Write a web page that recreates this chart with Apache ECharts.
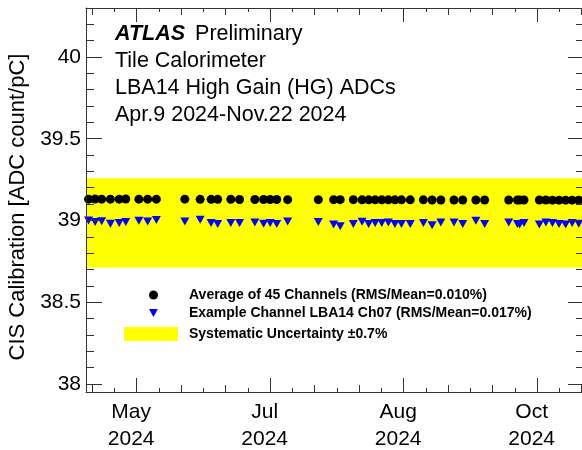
<!DOCTYPE html>
<html><head><meta charset="utf-8">
<script src="https://cdn.jsdelivr.net/npm/echarts@6/dist/echarts.min.js"></script>
<style>html,body{margin:0;padding:0;background:#fff}#c{width:582px;height:450px}</style>
</head><body><div id="c"></div>
<script>
// ---- data ----
const runDates = ['2024-04-09','2024-04-12','2024-04-15','2024-04-19','2024-04-23','2024-04-26',
  '2024-05-02','2024-05-06','2024-05-10','2024-05-23','2024-05-30','2024-06-04','2024-06-07',
  '2024-06-13','2024-06-17','2024-06-24','2024-06-28','2024-07-01','2024-07-04','2024-07-09',
  '2024-07-23','2024-07-30','2024-08-02','2024-08-08','2024-08-12','2024-08-15','2024-08-18',
  '2024-08-21','2024-08-24','2024-08-27','2024-08-30','2024-09-03','2024-09-09','2024-09-13',
  '2024-09-17','2024-09-23','2024-09-27','2024-10-03','2024-10-07','2024-10-18','2024-10-22',
  '2024-10-23','2024-10-25','2024-11-01','2024-11-04','2024-11-07','2024-11-10','2024-11-13',
  '2024-11-16','2024-11-19'];
const avgValues = [39.130,39.131,39.130,39.130,39.130,39.131,39.130,39.130,39.130,39.130,
  39.129,39.129,39.129,39.129,39.128,39.128,39.128,39.128,39.128,39.127,
  39.127,39.127,39.127,39.127,39.126,39.126,39.126,39.126,39.126,39.126,
  39.126,39.126,39.126,39.125,39.125,39.125,39.125,39.125,39.125,39.125,
  39.125,39.125,39.125,39.125,39.125,39.124,39.124,39.124,39.124,39.124];
const chValues = [39.000,38.990,38.995,38.980,38.985,38.990,38.998,38.994,39.002,38.994,
  39.004,38.985,38.978,38.985,38.985,38.988,38.980,38.985,38.978,38.994,
  38.990,38.975,38.965,38.978,38.992,38.978,38.985,38.985,38.988,38.978,
  38.978,38.978,38.984,38.970,38.988,38.988,38.978,38.998,38.978,38.988,
  38.978,38.975,38.984,38.975,38.988,38.984,38.978,38.975,38.984,38.980];
const sysUncertainty = 0.007;
const xTickDates = ['2024-05-01','2024-07-01','2024-08-31','2024-10-31'];
const xTickLabels = ['May\n2024','Jul\n2024','Aug\n2024','Oct\n2024'];
const yTickValues = [38, 38.5, 39, 39.5, 40];
const yTickLabels = ['38','38.5','39','39.5','40'];
const nameAvg = 'Average of 45 Channels (RMS/Mean=0.010%)';
const nameCh = 'Example Channel LBA14 Ch07 (RMS/Mean=0.017%)';
const nameSys = 'Systematic Uncertainty \u00B10.7%';

// ---- build ----
const FONT = '"Liberation Sans", Arial, Helvetica, sans-serif';
const T = s => Date.parse(s + 'T00:00:00Z');
const xMin = Date.parse('2024-04-07T20:00:00Z');
const xMax = Date.parse('2024-11-21T10:00:00Z');
const yMin = 37.95, yMax = 40.30;
const majorX = xTickDates.map(T);
const stepX = majorX[1] - majorX[0];
const secX = [], terX = [];
for (let k = -12; k <= 40; k++) {
  const v = majorX[0] + k * stepX / 6;
  if (v < xMin || v > xMax || k % 6 === 0) continue;
  if (k % 2 === 0) secX.push(v); else terX.push(v);
}
const minorY = [];
for (let k = 380; k <= 403; k++) { if (k % 5 !== 0) minorY.push(k / 10); }

// systematic band: mean of the example channel +-0.7%
const chMean = chValues.reduce((a, b) => a + b, 0) / chValues.length;
const bandLo = chMean * (1 - sysUncertainty), bandHi = chMean * (1 + sysUncertainty);

const LC = '#333';
function xAx(pos, ticks, len, showLine, labels) {
  return {
    type: 'value', position: pos, min: xMin, max: xMax, z: 10,
    axisLine: { show: showLine, onZero: false, lineStyle: { color: LC, width: 1 } },
    axisTick: { show: true, inside: true, length: len, customValues: ticks, lineStyle: { color: LC, width: 1 } },
    axisLabel: labels ? {
      show: true, customValues: majorX, margin: 7, fontSize: 21, lineHeight: 27,
      fontFamily: FONT, color: '#000', padding: [0, 11, 0, 0],
      formatter: v => { const i = majorX.indexOf(v); return i >= 0 ? xTickLabels[i] : ''; }
    } : { show: false },
    splitLine: { show: false }
  };
}
function yAx(pos, ticks, len, showLine, labels, extra) {
  return Object.assign({
    type: 'value', position: pos, min: yMin, max: yMax, z: 10,
    axisLine: { show: showLine, onZero: false, lineStyle: { color: LC, width: 1 } },
    axisTick: { show: true, inside: true, length: len, customValues: ticks, lineStyle: { color: LC, width: 1 } },
    axisLabel: labels ? {
      show: true, customValues: yTickValues, margin: 5, fontSize: 21,
      fontFamily: FONT, color: '#000',
      formatter: v => { const i = yTickValues.indexOf(v); return i >= 0 ? yTickLabels[i] : ''; }
    } : { show: false },
    splitLine: { show: false }
  }, extra || {});
}

const xs = runDates.map(T);
const legendText = { fontFamily: FONT, fontSize: 14, fontWeight: 'bold', color: '#000' };
const chart = echarts.init(document.getElementById('c'), null, { renderer: 'canvas' });
chart.setOption({
  animation: false,
  backgroundColor: '#fff',
  grid: { left: 86, top: 8, width: 498, bottom: 58, containLabel: false, outerBoundsMode: 'none' },
  title: {
    left: 110, top: 16,
    text: '{a|ATLAS} Preliminary\nTile Calorimeter\nLBA14 High Gain (HG) ADCs\nApr.9 2024-Nov.22 2024',
    textStyle: {
      fontFamily: FONT, fontSize: 21.5, fontWeight: 'normal', color: '#000', lineHeight: 27,
      rich: { a: { fontFamily: FONT, fontSize: 21.5, fontStyle: 'italic', fontWeight: 'bold', color: '#000', lineHeight: 27, padding: [0, 4, 0, 0] } }
    }
  },
  legend: [
    { left: 149, top: 288, padding: 0, itemWidth: 9, itemHeight: 9, selectedMode: false,
      data: [{ name: nameAvg, icon: 'circle' }], itemStyle: { color: '#000' },
      textStyle: Object.assign({ padding: [0, 0, 0, 26] }, legendText) },
    { left: 149, top: 306, padding: 0, itemWidth: 9, itemHeight: 8, selectedMode: false,
      data: [{ name: nameCh, icon: 'path://M0,0L10,0L5,9Z' }], itemStyle: { color: '#0000ff' },
      textStyle: Object.assign({ padding: [0, 0, 0, 26] }, legendText) },
    { left: 124, top: 327, padding: 0, itemWidth: 54, itemHeight: 14, selectedMode: false,
      data: [{ name: nameSys, icon: 'rect' }], itemStyle: { color: '#ffff00', borderWidth: 0 },
      textStyle: Object.assign({ padding: [0, 0, 0, 6] }, legendText) }
  ],
  xAxis: [
    xAx('bottom', majorX, 14, true, true),
    xAx('bottom', secX, 7, false, false),
    xAx('bottom', terX, 4, false, false),
    xAx('top', majorX, 14, true, false),
    xAx('top', secX, 7, false, false),
    xAx('top', terX, 4, false, false)
  ],
  yAxis: [
    yAx('left', yTickValues, 16, true, true, {
      name: 'CIS Calibration [ADC count/pC]', nameLocation: 'middle', nameGap: 50,
      nameTextStyle: { fontFamily: FONT, fontSize: 22, color: '#000', padding: [0, 14, 0, 0] }
    }),
    yAx('left', minorY, 8, false, false),
    yAx('right', yTickValues, 16, true, false),
    yAx('right', minorY, 8, false, false)
  ],
  series: [
    { name: nameSys, type: 'custom', xAxisIndex: 0, yAxisIndex: 0, z: 1, silent: true,
      data: [[xMin, bandLo, xMax, bandHi]],
      encode: { x: [0, 2], y: [1, 3] },
      itemStyle: { color: '#ffff00' },
      renderItem: (params, api) => {
        const p1 = api.coord([api.value(0), api.value(3)]);
        const p2 = api.coord([api.value(2), api.value(1)]);
        return { type: 'rect', shape: { x: p1[0], y: p1[1], width: p2[0] - p1[0], height: p2[1] - p1[1] },
          style: { fill: '#ffff00' } };
      } },
    { name: nameAvg, type: 'scatter', xAxisIndex: 0, yAxisIndex: 0, z: 5,
      data: xs.map((x, i) => [x, avgValues[i]]),
      symbol: 'circle', symbolSize: 9, itemStyle: { color: '#000', opacity: 1 } },
    { name: nameCh, type: 'scatter', xAxisIndex: 0, yAxisIndex: 0, z: 5,
      data: xs.map((x, i) => [x, chValues[i]]),
      symbol: 'path://M0,0L10,0L5,9Z', symbolSize: [9, 8], itemStyle: { color: '#0000ff', opacity: 1 } }
  ]
});
</script>
</body></html>
